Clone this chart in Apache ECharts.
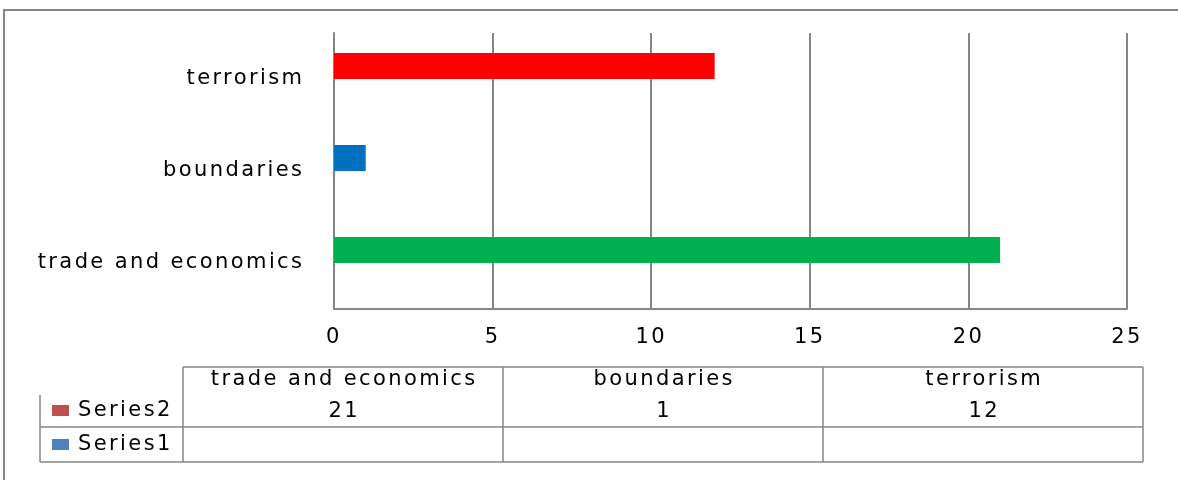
<!DOCTYPE html>
<html><head><meta charset="utf-8">
<script src="https://cdn.jsdelivr.net/npm/echarts@6/dist/echarts.min.js"></script>
<style>html,body{margin:0;padding:0;background:#fff}#c{width:1178px;height:480px}</style>
</head><body><div id="c"></div>
<script>
// ---- data ----
const categories = ['trade and economics', 'boundaries', 'terrorism'];
const series2Values = [21, 1, 12];
const series1Values = [null, null, null];
const seriesNames = ['Series2', 'Series1'];
const xTickLabels = ['0', '5', '10', '15', '20', '25'];
const xMin = 0, xMax = 25, xInterval = 5;

// ---- styles ----
const barColors = ['#00B050', '#0070C0', '#FF0000'];
const legendColors = ['#C0504D', '#4F81BD'];
const lineColor = '#868686';
const FONT = '"DejaVu Sans", Verdana, sans-serif';
const txt = '#000';
const SP = 2.4;
const FS = 21;

const dom = document.getElementById('c');
const chart = echarts.init(dom, null, { renderer: 'canvas' });

// table layout
const tLeft = 183, colW = 320, tTop = 367, tMid = 427, tBot = 462, legLeft = 40, legTop = 395;
const tRight = tLeft + colW * categories.length;
const g = [];
function line(x1, y1, x2, y2) {
  g.push({ type: 'line', silent: true, shape: { x1, y1, x2, y2 }, style: { stroke: lineColor, lineWidth: 1.5 } });
}
line(tLeft, tTop, tRight, tTop);
line(legLeft, tMid, tRight, tMid);
line(legLeft, tBot, tRight, tBot);
line(legLeft, legTop, legLeft, tBot);
for (let i = 0; i <= categories.length; i++) line(tLeft + colW * i, tTop, tLeft + colW * i, tBot);
const tfont = FS + 'px ' + FONT;
categories.forEach((c, i) => {
  const cx = tLeft + colW * i + colW / 2 + SP / 2;
  g.push({ type: 'text', silent: true, x: cx, y: 380, style: { text: c, font: tfont, fill: txt, align: 'center', verticalAlign: 'middle' } });
  const v = series2Values[i];
  g.push({ type: 'text', silent: true, x: cx, y: 412, style: { text: v == null ? '' : String(v), font: tfont, fill: txt, align: 'center', verticalAlign: 'middle' } });
  const v1 = series1Values[i];
  if (v1 != null) g.push({ type: 'text', silent: true, x: cx, y: 445, style: { text: String(v1), font: tfont, fill: txt, align: 'center', verticalAlign: 'middle' } });
});
const legY = [411, 445];
seriesNames.forEach((n, i) => {
  g.push({ type: 'rect', silent: true, shape: { x: 52, y: legY[i] - 6, width: 17, height: 11 }, style: { fill: legendColors[i] } });
  g.push({ type: 'text', silent: true, x: 78, y: legY[i], style: { text: n, font: tfont, fill: txt, align: 'left', verticalAlign: 'middle' } });
});
// outer border
g.push({ type: 'rect', silent: true, shape: { x: 4, y: 10, width: 1300, height: 600 }, style: { fill: 'none', stroke: lineColor, lineWidth: 2 } });

const option = {
  backgroundColor: '#fff',
  animation: false,
  grid: { left: 334, right: 51, top: 33, bottom: 171, containLabel: false },
  xAxis: {
    type: 'value', min: xMin, max: xMax, interval: xInterval,
    axisLine: { show: true, lineStyle: { color: lineColor, width: 2 } },
    axisTick: { show: false },
    splitLine: { show: true, lineStyle: { color: lineColor, width: 2 } },
    axisLabel: { margin: 18, fontSize: FS, fontFamily: FONT, color: txt,
      formatter: (v) => xTickLabels[Math.round((v - xMin) / xInterval)] }
  },
  yAxis: {
    type: 'category', data: categories,
    axisLine: { show: true, lineStyle: { color: lineColor, width: 2 } },
    axisTick: { show: false },
    axisLabel: { margin: 29.6, fontSize: FS, fontFamily: FONT, color: txt }
  },
  series: [
    { name: seriesNames[0], type: 'bar', data: series2Values, barWidth: 26, barGap: '0%',
      itemStyle: { color: (p) => barColors[p.dataIndex] } },
    { name: seriesNames[1], type: 'bar', data: series1Values, barWidth: 26, barGap: '0%' }
  ],
  graphic: g
};
chart.setOption(option);
dom.querySelectorAll('canvas').forEach((cv) => {
  try { cv.getContext('2d').letterSpacing = SP + 'px'; } catch (e) {}
});
chart.setOption(option, true);
</script></body></html>
